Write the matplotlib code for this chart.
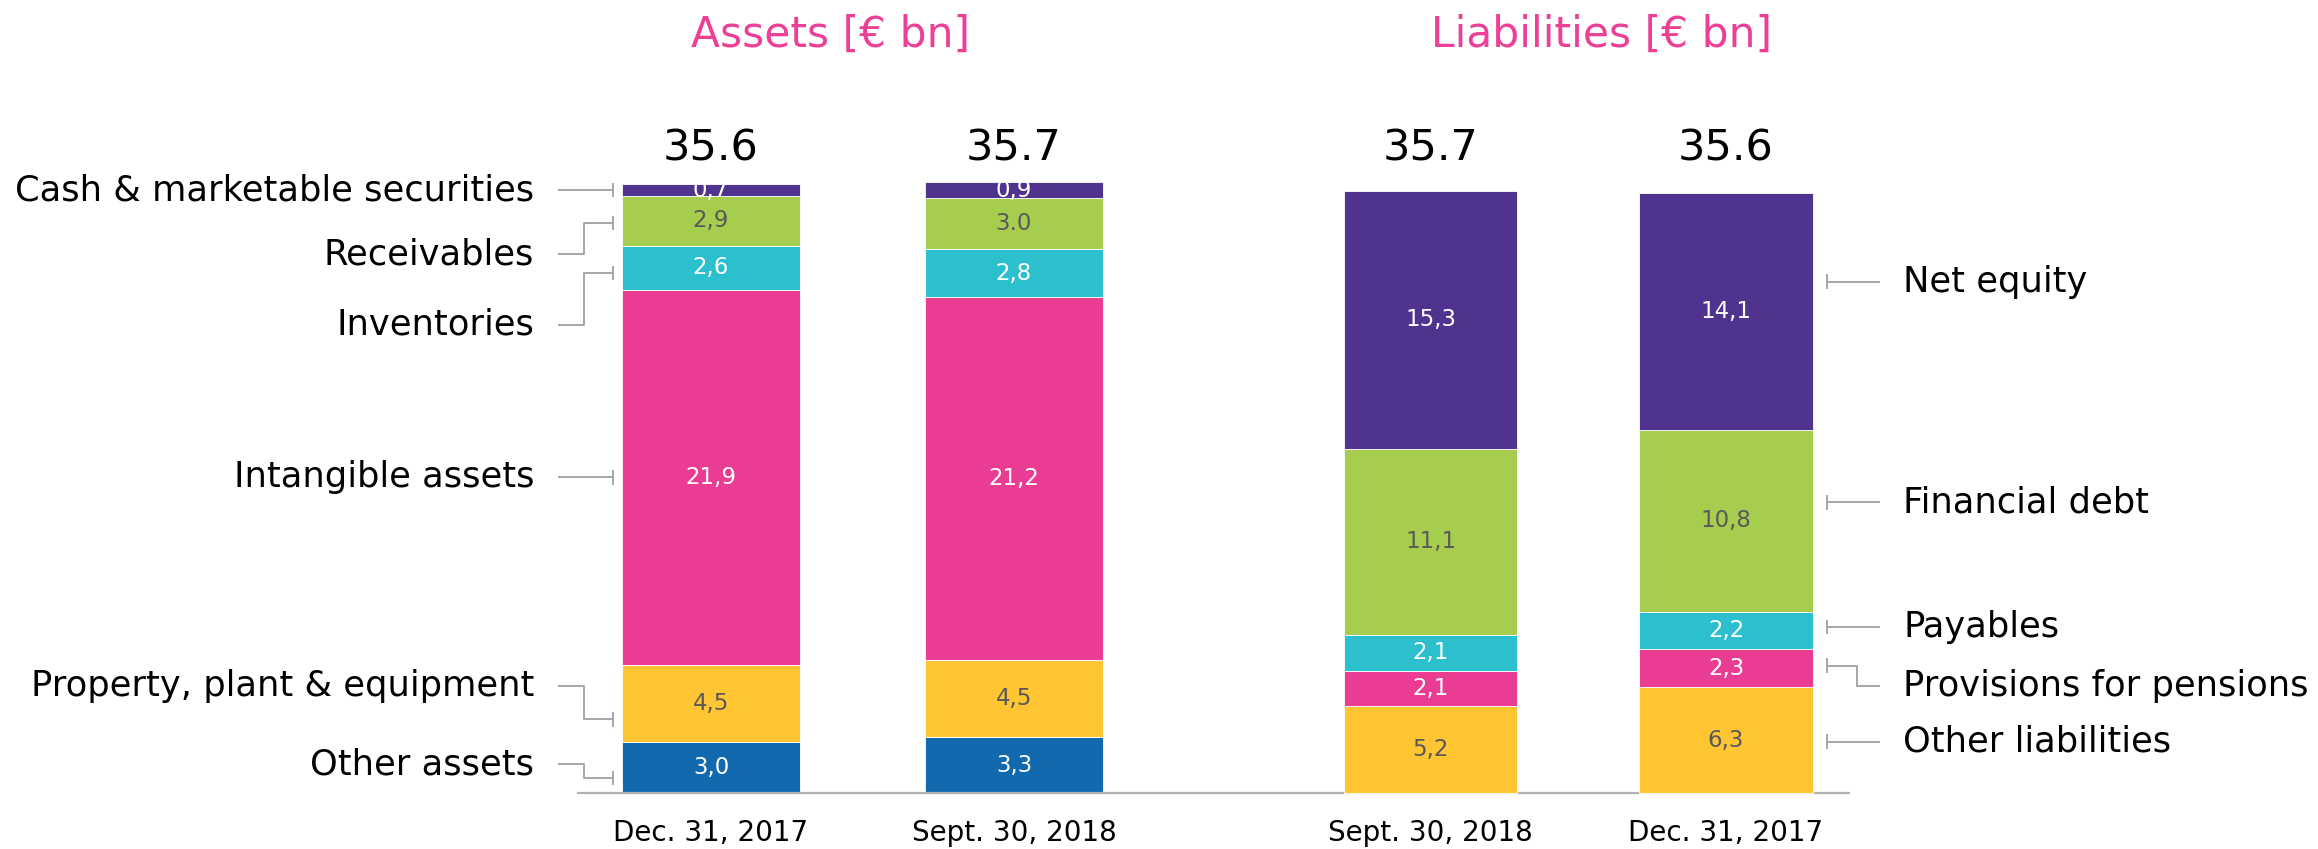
import matplotlib
matplotlib.use("Agg")
import matplotlib.pyplot as plt

# ---------------- data ----------------
asset_categories = ['Other assets', 'Property, plant & equipment', 'Intangible assets',
                    'Inventories', 'Receivables', 'Cash & marketable securities']
asset_dec17 = [3.0, 4.5, 21.9, 2.6, 2.9, 0.7]
asset_sep18 = [3.3, 4.5, 21.2, 2.8, 3.0, 0.9]
asset_dec17_text = ['3,0', '4,5', '21,9', '2,6', '2,9', '0,7']
asset_sep18_text = ['3,3', '4,5', '21,2', '2,8', '3.0', '0,9']

liab_categories = ['Other liabilities', 'Provisions for pensions', 'Payables',
                   'Financial debt', 'Net equity']
liab_sep18 = [5.2, 2.1, 2.1, 11.1, 15.3]
liab_dec17 = [6.3, 2.3, 2.2, 10.8, 14.1]
liab_sep18_text = ['5,2', '2,1', '2,1', '11,1', '15,3']
liab_dec17_text = ['6,3', '2,3', '2,2', '10,8', '14,1']

bar_dates = ['Dec. 31, 2017', 'Sept. 30, 2018', 'Sept. 30, 2018', 'Dec. 31, 2017']
bar_totals = ['35.6', '35.7', '35.7', '35.6']
titles = ['Assets [€ bn]', 'Liabilities [€ bn]']

# ---------------- style / layout ----------------
asset_colors = ['#1269AE', '#FFC533', '#EB3C93', '#2CBFCE', '#A7CD4F', '#50338F']
asset_text_colors = ['white', '#595959', 'white', 'white', '#595959', 'white']
liab_colors = ['#FFC533', '#EB3C93', '#2CBFCE', '#A7CD4F', '#50338F']
liab_text_colors = ['#595959', 'white', 'white', '#595959', 'white']
title_color = '#EC3F95'
line_color = '#A6A6A6'

x_pos = [0.0, 1.0, 2.375, 3.35]
widths = [0.586, 0.586, 0.572, 0.572]

XLIM = (-2.3465, 5.3036)
YLIM = (-3.242, 46.349)
LIAB_SCALE = 0.983   # liabilities panel drawn at a slightly smaller scale

# label layout (data units of the main axes)
left_label_y = [1.72, 6.30, 18.46, 27.37, 31.51, 35.25]
left_anchor_y = [0.89, 4.33, 18.46, 30.39, 33.32, 35.25]
right_label_y = [3.03, 6.30, 9.74, 17.0, 29.9]
right_anchor_y = [3.03, 7.47, 9.74, 17.0, 29.9]

fig = plt.figure(figsize=(23.18, 8.49), dpi=100)
ax = fig.add_axes([0, 0, 1, 1])
ax.set_xlim(*XLIM)
ax.set_ylim(*YLIM)
for s in ['top', 'right', 'left']:
    ax.spines[s].set_visible(False)
ax.spines['bottom'].set_position(('data', 0))
ax.spines['bottom'].set_bounds(-0.439, 3.756)
ax.spines['bottom'].set_color('#B3B3B3')
ax.spines['bottom'].set_linewidth(1.6)
ax.spines['bottom'].set_zorder(5)
ax.set_yticks([])
ax.set_xticks([])

ax2 = fig.add_axes([0, 0, 1, 1])
ax2.set_xlim(*XLIM)
ax2.set_ylim(YLIM[0] / LIAB_SCALE, YLIM[1] / LIAB_SCALE)
ax2.axis('off')
ax2.patch.set_alpha(0)

def draw_stack(a, x, w, vals, texts, colors, tcolors):
    bottom = 0.0
    for v, t, c, tc in zip(vals, texts, colors, tcolors):
        a.bar(x, v, width=w, bottom=bottom, color=c, edgecolor='white',
              linewidth=0.6, zorder=3)
        a.text(x, bottom + v / 2, t, ha='center', va='center',
               fontsize=16.5, color=tc, zorder=4)
        bottom += v

draw_stack(ax, x_pos[0], widths[0], asset_dec17, asset_dec17_text, asset_colors, asset_text_colors)
draw_stack(ax, x_pos[1], widths[1], asset_sep18, asset_sep18_text, asset_colors, asset_text_colors)
draw_stack(ax2, x_pos[2], widths[2], liab_sep18, liab_sep18_text, liab_colors, liab_text_colors)
draw_stack(ax2, x_pos[3], widths[3], liab_dec17, liab_dec17_text, liab_colors, liab_text_colors)

# totals & dates
for x, tot, d in zip(x_pos, bar_totals, bar_dates):
    ax.text(x, 36.95, tot, ha='center', va='baseline', fontsize=31, color='black')
    ax.text(x, -2.28, d, ha='center', va='center', fontsize=20, color='black')

# titles
ax.text(0.393, 43.62, titles[0], ha='center', va='baseline', fontsize=30.5, color=title_color)
ax.text(2.94, 43.62, titles[1], ha='center', va='baseline', fontsize=30.5, color=title_color)

# left labels with connectors
cap = 0.36
lx_text, lx_start, lx_elbow, lx_tick = -0.584, -0.502, -0.4175, -0.323
for name, ly, ay in zip(asset_categories, left_label_y, left_anchor_y):
    ax.text(lx_text, ly, name, ha='right', va='center', fontsize=25.4, color='black')
    if abs(ly - ay) < 1e-6:
        ax.plot([lx_start, lx_tick], [ly, ly], color=line_color, lw=1.4)
    else:
        ax.plot([lx_start, lx_elbow, lx_elbow, lx_tick], [ly, ly, ay, ay],
                color=line_color, lw=1.4)
    ax.plot([lx_tick, lx_tick], [ay - cap, ay + cap], color=line_color, lw=1.4)

# right labels with connectors
rx_tick, rx_elbow, rx_end, rx_text = 3.682, 3.781, 3.856, 3.934
for name, ly, ay in zip(liab_categories, right_label_y, right_anchor_y):
    ax.text(rx_text, ly, name, ha='left', va='center', fontsize=25.4, color='black')
    if abs(ly - ay) < 1e-6:
        ax.plot([rx_tick, rx_end], [ly, ly], color=line_color, lw=1.4)
    else:
        ax.plot([rx_tick, rx_elbow, rx_elbow, rx_end], [ay, ay, ly, ly],
                color=line_color, lw=1.4)
    ax.plot([rx_tick, rx_tick], [ay - cap, ay + cap], color=line_color, lw=1.4)

fig.savefig('out.png', dpi=100, facecolor='white')
